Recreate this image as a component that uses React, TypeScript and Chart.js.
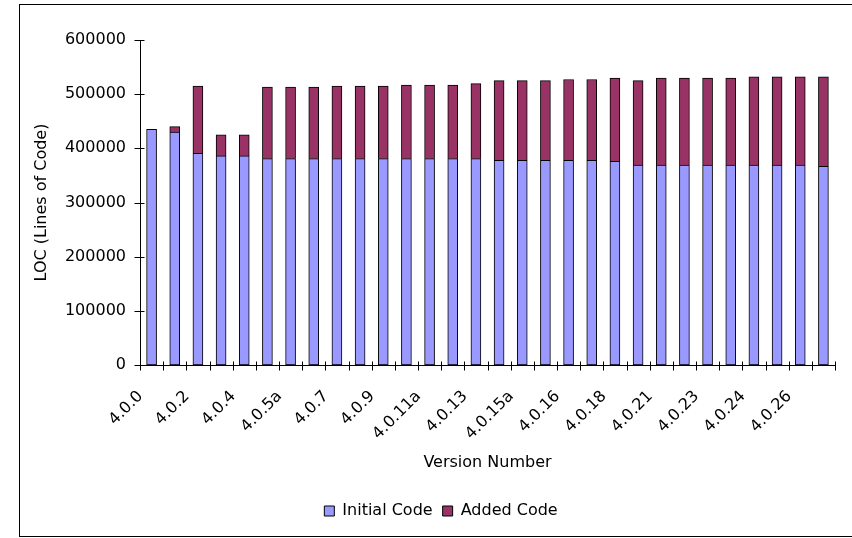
import { useEffect, useRef } from "react";
import { Chart, registerables } from "chart.js";

Chart.register(...registerables);

// Release versions, oldest first
const versions = [
  "4.0.0", "4.0.1", "4.0.2", "4.0.3", "4.0.4", "4.0.5", "4.0.5a", "4.0.6",
  "4.0.7", "4.0.8", "4.0.9", "4.0.10", "4.0.11a", "4.0.12", "4.0.13", "4.0.14",
  "4.0.15a", "4.0.15b", "4.0.16", "4.0.17", "4.0.18", "4.0.20", "4.0.21", "4.0.22",
  "4.0.23", "4.0.23a", "4.0.24", "4.0.25", "4.0.26", "4.0.27",
];

// Lines of code carried over from the initial release
const initialCode = [
  435000, 430000, 391000, 386000, 386000, 381000, 381000, 381000,
  381000, 381000, 381000, 381000, 381000, 381000, 381000, 378000,
  378000, 378000, 378000, 378000, 376000, 369000, 369000, 369000,
  369000, 369000, 369000, 369000, 369000, 367000,
];

// Lines of code added since the initial release
const addedCode = [
  0, 10000, 124000, 39000, 39000, 132000, 132000, 132000,
  134000, 134000, 134000, 136000, 136000, 136000, 138500, 147000,
  147000, 147000, 149000, 149000, 153500, 156000, 160500, 160500,
  160500, 160500, 163000, 163000, 163000, 165000,
];

const yMax = 600000;
const yStep = 100000;

const FONT = "DejaVu Sans";

// Tick marks that cross the axis lines, placed between categories on x
const crossTicks = {
  id: "crossTicks",
  afterDraw(chart: any) {
    const { ctx, chartArea } = chart;
    const xs = chart.scales.x;
    const ys = chart.scales.y;
    const ax = Math.round(chartArea.left) + 0.5;
    const ay = Math.round(chartArea.bottom) + 0.5;
    ctx.save();
    ctx.strokeStyle = "#000";
    ctx.lineWidth = 1;
    ctx.beginPath();
    ys.ticks.forEach((_t: any, i: number) => {
      const py = Math.round(ys.getPixelForTick(i)) + 0.5;
      ctx.moveTo(ax - 6, py);
      ctx.lineTo(ax + 4, py);
    });
    for (let i = 0; i <= versions.length; i++) {
      const px = Math.round(xs.getPixelForValue(i - 0.5)) + 0.5;
      ctx.moveTo(px, ay - 4);
      ctx.lineTo(px, ay + 5);
    }
    ctx.stroke();
    ctx.restore();
  },
};

export default function App() {
  const canvasRef = useRef<HTMLCanvasElement | null>(null);

  useEffect(() => {
    const canvas = canvasRef.current;
    if (!canvas) return;
    const chart = new Chart(canvas, {
      type: "bar",
      data: {
        labels: versions,
        datasets: [
          {
            label: "Initial Code",
            data: initialCode,
            backgroundColor: "#9999FF",
            borderColor: "#000000",
            borderWidth: 1,
            borderSkipped: false,
            barThickness: 10,
          },
          {
            label: "Added Code",
            data: addedCode,
            backgroundColor: "#993366",
            borderColor: "#000000",
            borderWidth: 1,
            borderSkipped: "start",
            barThickness: 10,
          },
        ],
      },
      options: {
        animation: false,
        responsive: false,
        maintainAspectRatio: false,
        layout: { padding: { left: 47, right: 17, top: 40, bottom: 9 } },
        plugins: {
          tooltip: { enabled: false },
          legend: {
            position: "bottom",
            labels: {
              boxWidth: 10,
              boxHeight: 10,
              padding: 10,
              color: "#000",
              font: { family: FONT, size: 16 },
            },
          },
        },
        scales: {
          x: {
            stacked: true,
            grid: { display: false, drawTicks: false },
            border: { display: true, color: "#000", width: 1 },
            ticks: {
              autoSkip: false,
              minRotation: 45,
              maxRotation: 45,
              padding: 22,
              labelOffset: -11,
              color: "#000",
              font: { family: FONT, size: 16 },
              callback: (_v: any, i: number) => (i % 2 === 0 ? versions[i] : ""),
            },
            title: {
              display: true,
              text: "Version Number",
              color: "#000",
              font: { family: FONT, size: 16 },
              padding: { top: 0, bottom: 21 },
            },
            afterFit: (scale: any) => {
              scale.height = 128;
              scale.paddingLeft = 0;
              scale.paddingRight = 0;
            },
          },
          y: {
            stacked: true,
            min: 0,
            max: yMax,
            grid: { display: false, drawTicks: false },
            border: { display: true, color: "#000", width: 1 },
            ticks: {
              stepSize: yStep,
              padding: 14,
              color: "#000",
              font: { family: FONT, size: 16 },
              callback: (v: any) => String(v),
            },
            title: {
              display: true,
              text: "LOC (Lines of Code)",
              color: "#000",
              font: { family: FONT, size: 16 },
              padding: { top: -15, bottom: 0 },
            },
            afterFit: (scale: any) => {
              scale.width = 93;
            },
          },
        },
      },
      plugins: [crossTicks],
    });
    return () => chart.destroy();
  }, []);

  return (
    <div
      style={{
        position: "fixed",
        left: 0,
        top: 0,
        width: 852,
        height: 538,
        overflow: "hidden",
        background: "#fff",
      }}
    >
      <div
        style={{
          position: "absolute",
          left: 19,
          top: 4,
          width: 900,
          height: 533,
          border: "1px solid #000",
          boxSizing: "border-box",
        }}
      />
      <canvas
        ref={canvasRef}
        width={852}
        height={538}
        style={{ position: "absolute", left: 0, top: 0, width: 852, height: 538 }}
      />
    </div>
  );
}
